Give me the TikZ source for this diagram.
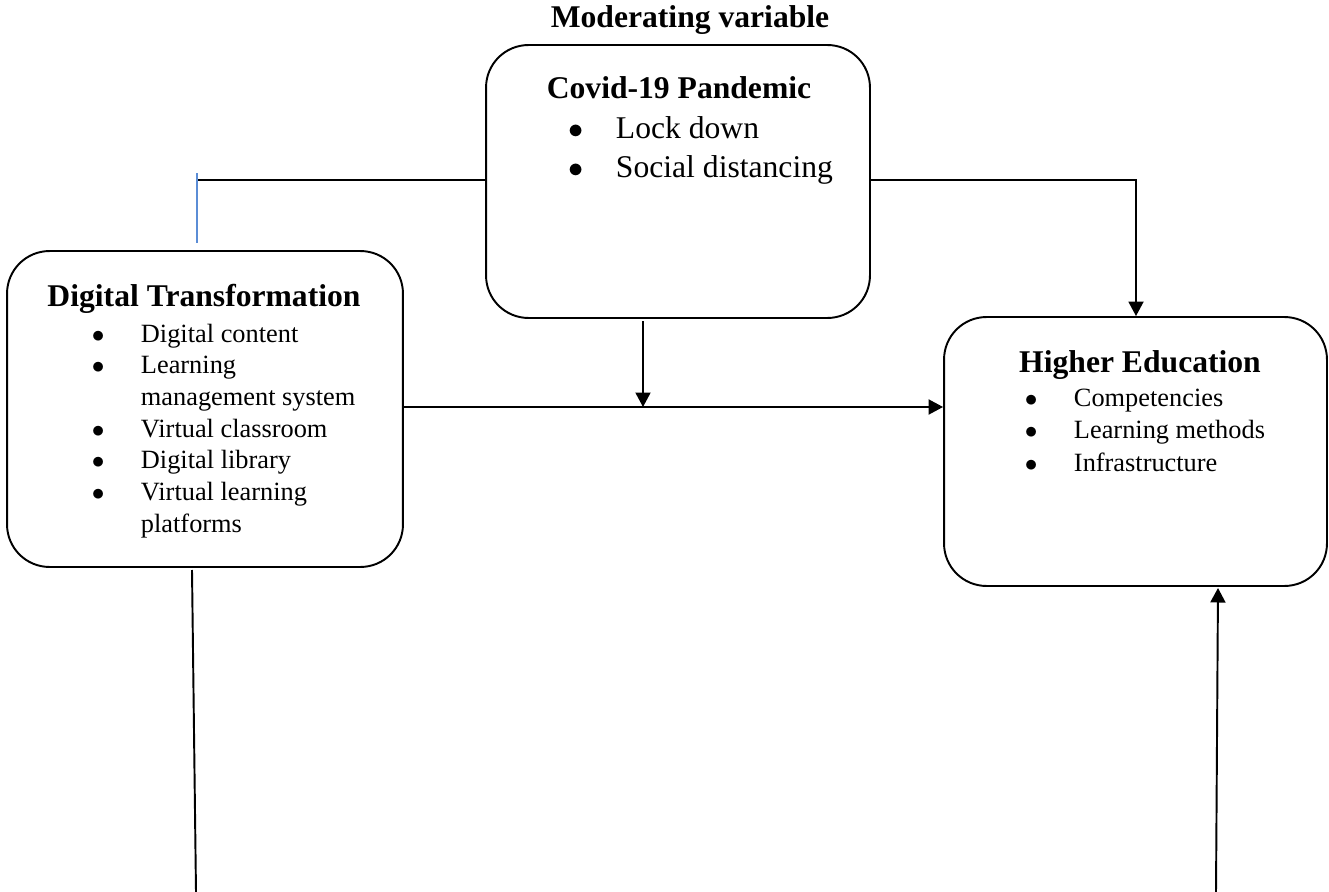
\documentclass[tikz,border=0pt]{standalone}
\usepackage{fontspec}
\setmainfont{Liberation Serif}
\usetikzlibrary{arrows.meta}
\definecolor{linkblue}{RGB}{91,141,214}
\newcommand{\itm}[1][0.73cm]{\llap{$\bullet$\hspace{#1}}}

\begin{document}
\begin{tikzpicture}[x=0.02cm,y=-0.02cm,line width=1.1pt,
    box/.style={draw,rounded corners=0.85cm,inner sep=0pt},
    head/.style={anchor=base,inner sep=0pt,font=\fontsize{18}{22}\selectfont\bfseries},
    items/.style={anchor=base west,inner sep=0pt},
    arr/.style={-{Triangle[length=0.29cm,width=0.3cm]}},
    blueline/.style={draw=linkblue,line width=0.8pt}]
    \useasboundingbox (0,0) rectangle (1329,892);

    \node[box,minimum width=7.68cm,minimum height=5.46cm] (cov) at (678,181.5) {};
    \node[box,minimum width=7.92cm,minimum height=6.32cm] (dt) at (205,409) {};
    \node[box,minimum width=7.66cm,minimum height=5.38cm] (he) at (1135.5,451.5) {};

    \node[head] (modvar) at (690,28) {Moderating variable};
    \node[head] (covt) at (679,99) {Covid-19 Pandemic};
    \node[head] (dtt) at (204,306) {Digital Transformation};
    \node[head] (het) at (1140,372) {Higher Education};

    \node[items,font=\fontsize{18}{22.2}\selectfont] (covl) at (615,138) {\begin{tabular}[t]{@{}l@{}}
        \itm[0.64cm]Lock down\\ \itm[0.64cm]Social distancing\end{tabular}};
    \node[items,font=\fontsize{15}{18.05}\selectfont] (dtl) at (140,342) {\begin{tabular}[t]{@{}l@{}}
        \itm Digital content\\ \itm Learning\\ management system\\ \itm Virtual classroom\\
        \itm Digital library\\ \itm Virtual learning\\ platforms\end{tabular}};
    \node[items,font=\fontsize{15}{18.5}\selectfont] (hel) at (1073,406) {\begin{tabular}[t]{@{}l@{}}
        \itm Competencies\\ \itm Learning methods\\ \itm Infrastructure\end{tabular}};

    \coordinate (lt) at (197,180);
    \coordinate (rt) at (1136,180);
    \coordinate (bt) at (197,173);
    \coordinate (bb) at (197,243);
    \coordinate (ms) at (643,321);
    \coordinate (mj) at (643,407);
    \coordinate (ld1) at (192,570);
    \coordinate (ld2) at (196,892);
    \coordinate (rd1) at (1216,892);
    \coordinate (rd2) at (1218,588);

    \draw (cov.west |- lt) -- (lt);
    \draw[blueline] (bt) -- (bb);
    \draw[arr] (cov.east |- rt) -- (rt) -- (rt |- he.north);
    \draw[arr] (ms) -- (mj);
    \draw[arr] (dt.east |- mj) -- (he.west |- mj);
    \draw (ld1) -- (ld2);
    \draw[arr] (rd1) -- (rd2);
\end{tikzpicture}
\end{document}
